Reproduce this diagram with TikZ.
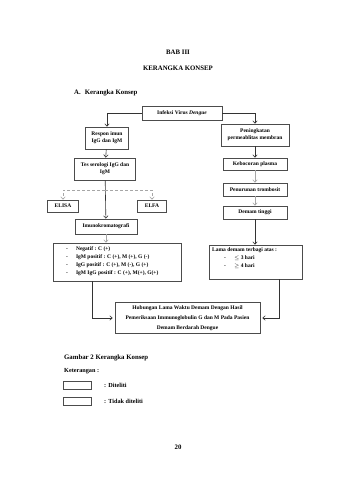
\documentclass[tikz,border=0pt]{standalone}
\usepackage{fontspec}
\setmainfont{Liberation Serif}
\usetikzlibrary{arrows.meta}
\begin{document}
\begin{tikzpicture}[x=1pt,y=-1pt,
  box/.style={draw=black!70, line width=0.7pt, fill=white, inner sep=1pt, align=center,
    font=\bfseries\fontsize{5.5}{7}\selectfont, anchor=center},
  txt/.style={font=\bfseries\fontsize{5.5}{8}\selectfont, inner sep=0pt},
  leg/.style={font=\bfseries\fontsize{6.2}{8}\selectfont, inner sep=0pt},
  ttl/.style={font=\bfseries\fontsize{6.8}{8}\selectfont, inner sep=0pt},
  tip/.style={-{Straight Barb[length=2.5pt,width=4.5pt]}},
  darr/.style={draw=black!80, line width=0.6pt, tip},
  garr/.style={draw=black!35, line width=0.6pt, tip},
]
\useasboundingbox[fill=white] (0,0) rectangle (339,480);

% titles
\node[ttl] (bab) at (178,52) {BAB III};
\node[ttl] (kk) at (178,68) {KERANGKA KONSEP};
\node[ttl, anchor=west] (sub) at (74,93) {A.\hspace{4pt}Kerangka Konsep};

% boxes
\node[box, minimum width=80pt, minimum height=14pt] (inf) at (182,113) {Infeksi Virus \textit{Dengue}};
\node[box, minimum width=43pt, minimum height=22pt] (resp) at (107,138) {Respon imun\\IgG dan IgM};
\node[box, minimum width=68pt, minimum height=22pt] (pen) at (255,135) {Peningkatan\\permeablitas membran};
\node[box, minimum width=61pt, minimum height=22pt] (tes) at (105,169) {Tes serologi IgG dan\\IgM};
\node[box, minimum width=64pt, minimum height=12pt] (keb) at (255,164) {Kebocoran plasma};
\node[box, minimum width=64pt, minimum height=13pt] (pnr) at (255,189.5) {Penurunan trombosit};
\node[box, minimum width=64pt, minimum height=13pt] (dem) at (255,212.5) {Demam tinggi};
\node[box, minimum width=31pt, minimum height=12pt] (elisa) at (63,206) {ELISA};
\node[box, minimum width=29pt, minimum height=12pt] (elfa) at (152,206) {ELFA};
\node[box, minimum width=62pt, minimum height=15pt] (imu) at (106,226.5) {Imunokromatografi};

\node[box, minimum width=128pt, minimum height=38pt] (res) at (117,262) {};
\node[txt, anchor=north west] (restxt) at (66,245) {\begin{tabular}{@{}l@{\hspace{8pt}}l@{}}
- & Negatif : C (+)\\
- & IgM positif : C (+), M (+), G (-)\\
- & IgG positif : C (+), M (-), G (+)\\
- & IgM IgG positif : C (+), M(+), G(+)
\end{tabular}};

\node[box, minimum width=93pt, minimum height=34pt] (lama) at (255.5,262) {};
\node[txt, anchor=north west] (lamatxt) at (212,246) {\begin{tabular}{@{}l@{\hspace{8pt}}l@{}}
\multicolumn{2}{@{}l@{}}{Lama demam terbagi atas :}\\
\hspace{12pt}- & $\leq$ 3 hari\\
\hspace{12pt}- & $\geq$ 4 hari
\end{tabular}};

\node[box, minimum width=145pt, minimum height=31pt, font=\bfseries\fontsize{5.5}{10}\selectfont] (fin) at (187.5,318)
  {Hubungan Lama Waktu Demam Dengan Hasil\\Pemeriksaan Immunoglobulin G dan M Pada Pasien\\Demam Berdarah Dengue};

% connectors
\draw[darr] (inf.west) -| (resp.north);
\draw[darr] (inf.east) -| (pen.north);
\draw[darr] (resp) -- (tes);
\draw[darr] (tes) -- (imu);
\draw[garr, densely dashed] (tes.south) ++(0,10) -| (elisa.north);
\draw[garr, densely dashed] (tes.south) ++(0,10) -| (elfa.north);
\draw[garr] (imu) -- (res.north -| imu.south);
\draw[darr] (pen) -- (keb);
\draw[garr] (keb) -- (pnr);
\draw[garr] (pnr) -- (dem);
\draw[darr] (dem) -- (lama.north -| dem.south);
\draw[darr] ([xshift=40pt]res.south west) |- ([xshift=-2pt]fin.west);
\draw[darr] ([xshift=71pt]lama.south west) |- ([xshift=2pt]fin.east);

% legend
\node[ttl, anchor=west] (gam) at (64,358) {Gambar 2 Kerangka Konsep};
\node[leg, anchor=west] (ket) at (64,371) {Keterangan :};
\node[box, minimum width=28pt, minimum height=8pt] (leg1) at (77,385) {};
\node[leg, anchor=west] (l1) at (104,385) {: Diteliti};
\node[box, minimum width=28pt, minimum height=8pt] (leg2) at (77,401) {};
\node[leg, anchor=west] (l2) at (104,401) {: Tidak diteliti};

\node[ttl] (pg) at (178,447) {20};
\end{tikzpicture}
\end{document}
